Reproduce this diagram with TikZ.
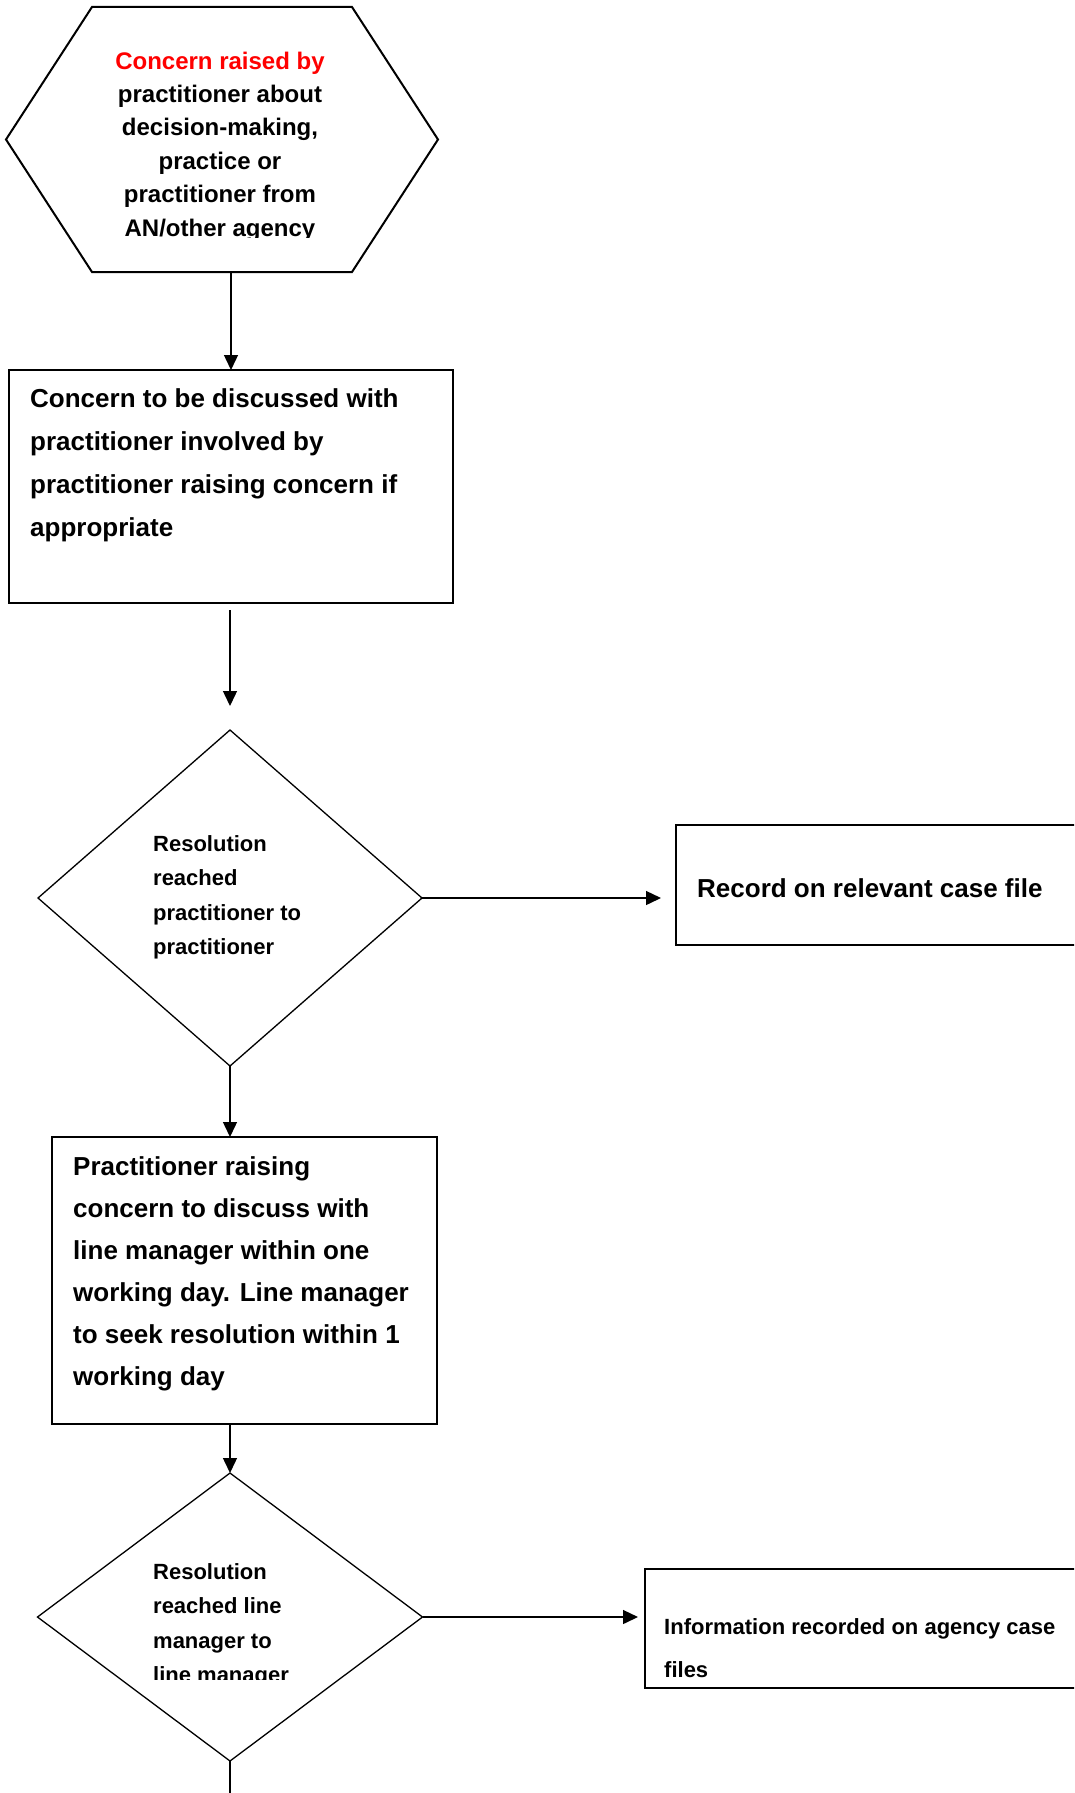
\documentclass[tikz,border=0pt]{standalone}
\usepackage{fontspec}
\setmainfont{Liberation Sans}
\usetikzlibrary{arrows.meta,shapes.geometric}
\begin{document}
\begin{tikzpicture}[x=1pt,y=-1pt,
  holder/.style={inner sep=0pt,outer sep=0pt,draw=none},
  boxstyle/.style={draw=black,line width=2pt,inner sep=0pt,outer sep=0pt},
  diastyle/.style={diamond,draw=black,line width=1.3pt,inner sep=0pt,outer sep=0pt},
  hexline/.style={draw=black,line width=2pt,line join=miter},
  arr/.style={draw=black,line width=1.4pt,-{Triangle[length=15pt,width=14pt]}},
  plainline/.style={draw=black,line width=1.4pt},
  bigtext/.style={inner sep=0pt,anchor=north west,align=left,font=\fontsize{26}{42}\selectfont\bfseries},
  smalltext/.style={inner sep=0pt,anchor=north west,align=left,font=\fontsize{22}{34.5}\selectfont\bfseries},
  hextext/.style={inner sep=0pt,anchor=north,align=center,font=\fontsize{24}{33.4}\selectfont\bfseries}
]
\clip (0,0) rectangle (1074,1793);
\fill[white] (0,0) rectangle (1074,1793);

% hexagon
\node[holder,minimum width=432pt,minimum height=265pt] (hex) at (222,139.5) {};
\draw[hexline] ([xshift=86pt]hex.north west) -- ([xshift=-86pt]hex.north east) -- (hex.east)
  -- ([xshift=-86pt]hex.south east) -- ([xshift=86pt]hex.south west) -- (hex.west) -- cycle;
\begin{scope}
\clip (0,0) rectangle (1074,237);
\node[hextext] (hext) at (220,51.5) {\textcolor{red}{Concern raised by}\\practitioner about\\decision-making,\\practice or\\practitioner from\\AN/other agency};
\end{scope}

% box 2
\node[boxstyle,minimum width=444pt,minimum height=233pt] (box2) at (231,486.5) {};
\node[bigtext,font=\fontsize{26}{43}\selectfont\bfseries] (box2t) at (30,388) {Concern to be discussed with\\practitioner involved by\\practitioner raising concern if\\appropriate};

% diamond 1
\node[diastyle,minimum width=384pt,minimum height=336pt] (dia1) at (230,898) {};
\node[smalltext] (dia1t) at (153,835) {Resolution\\reached\\practitioner to\\practitioner};

% record box
\node[boxstyle,minimum width=430pt,minimum height=120pt] (rec) at (891,885) {};
\node[inner sep=0pt,anchor=base west,font=\fontsize{26}{42}\selectfont\bfseries] (rect) at (697,897) {Record on relevant case file};

% box 4
\node[boxstyle,minimum width=385pt,minimum height=287pt] (box4) at (244.5,1280.5) {};
\node[bigtext] (box4t) at (73,1156) {Practitioner raising\\concern to discuss with\\line manager within one\\working day. Line manager\\to seek resolution within 1\\working day};

% diamond 2
\node[diastyle,minimum width=385pt,minimum height=288pt] (dia2) at (230,1617) {};
\begin{scope}
\clip (0,0) rectangle (1074,1679);
\node[smalltext] (dia2t) at (153,1563) {Resolution\\reached line\\manager to\\line manager};
\end{scope}

% info box
\node[boxstyle,minimum width=455pt,minimum height=119pt] (info) at (872.5,1628.5) {};
\begin{scope}
\clip (0,0) rectangle (1074,1679);
\node[inner sep=0pt,anchor=north west,align=left,font=\fontsize{22}{43.5}\selectfont\bfseries] (infot) at (664,1618) {Information recorded on agency case\\files};
\end{scope}

\coordinate (offpage) at (230,1800);

% connectors
\draw[arr] (box2.north |- hex.south) -- (box2.north);
\draw[arr,shorten <=7pt,shorten >=24pt] (box2.south -| dia1.north) -- (dia1.north);
\draw[arr,shorten >=15pt] (dia1.east) -- (rec.west |- dia1.east);
\draw[arr] (dia1.south) -- (dia1.south |- box4.north);
\draw[arr] (box4.south -| dia2.north) -- (dia2.north);
\draw[arr,shorten >=7pt] (dia2.east) -- (info.west |- dia2.east);
\draw[plainline] (dia2.south) -- (offpage);
\end{tikzpicture}
\end{document}
